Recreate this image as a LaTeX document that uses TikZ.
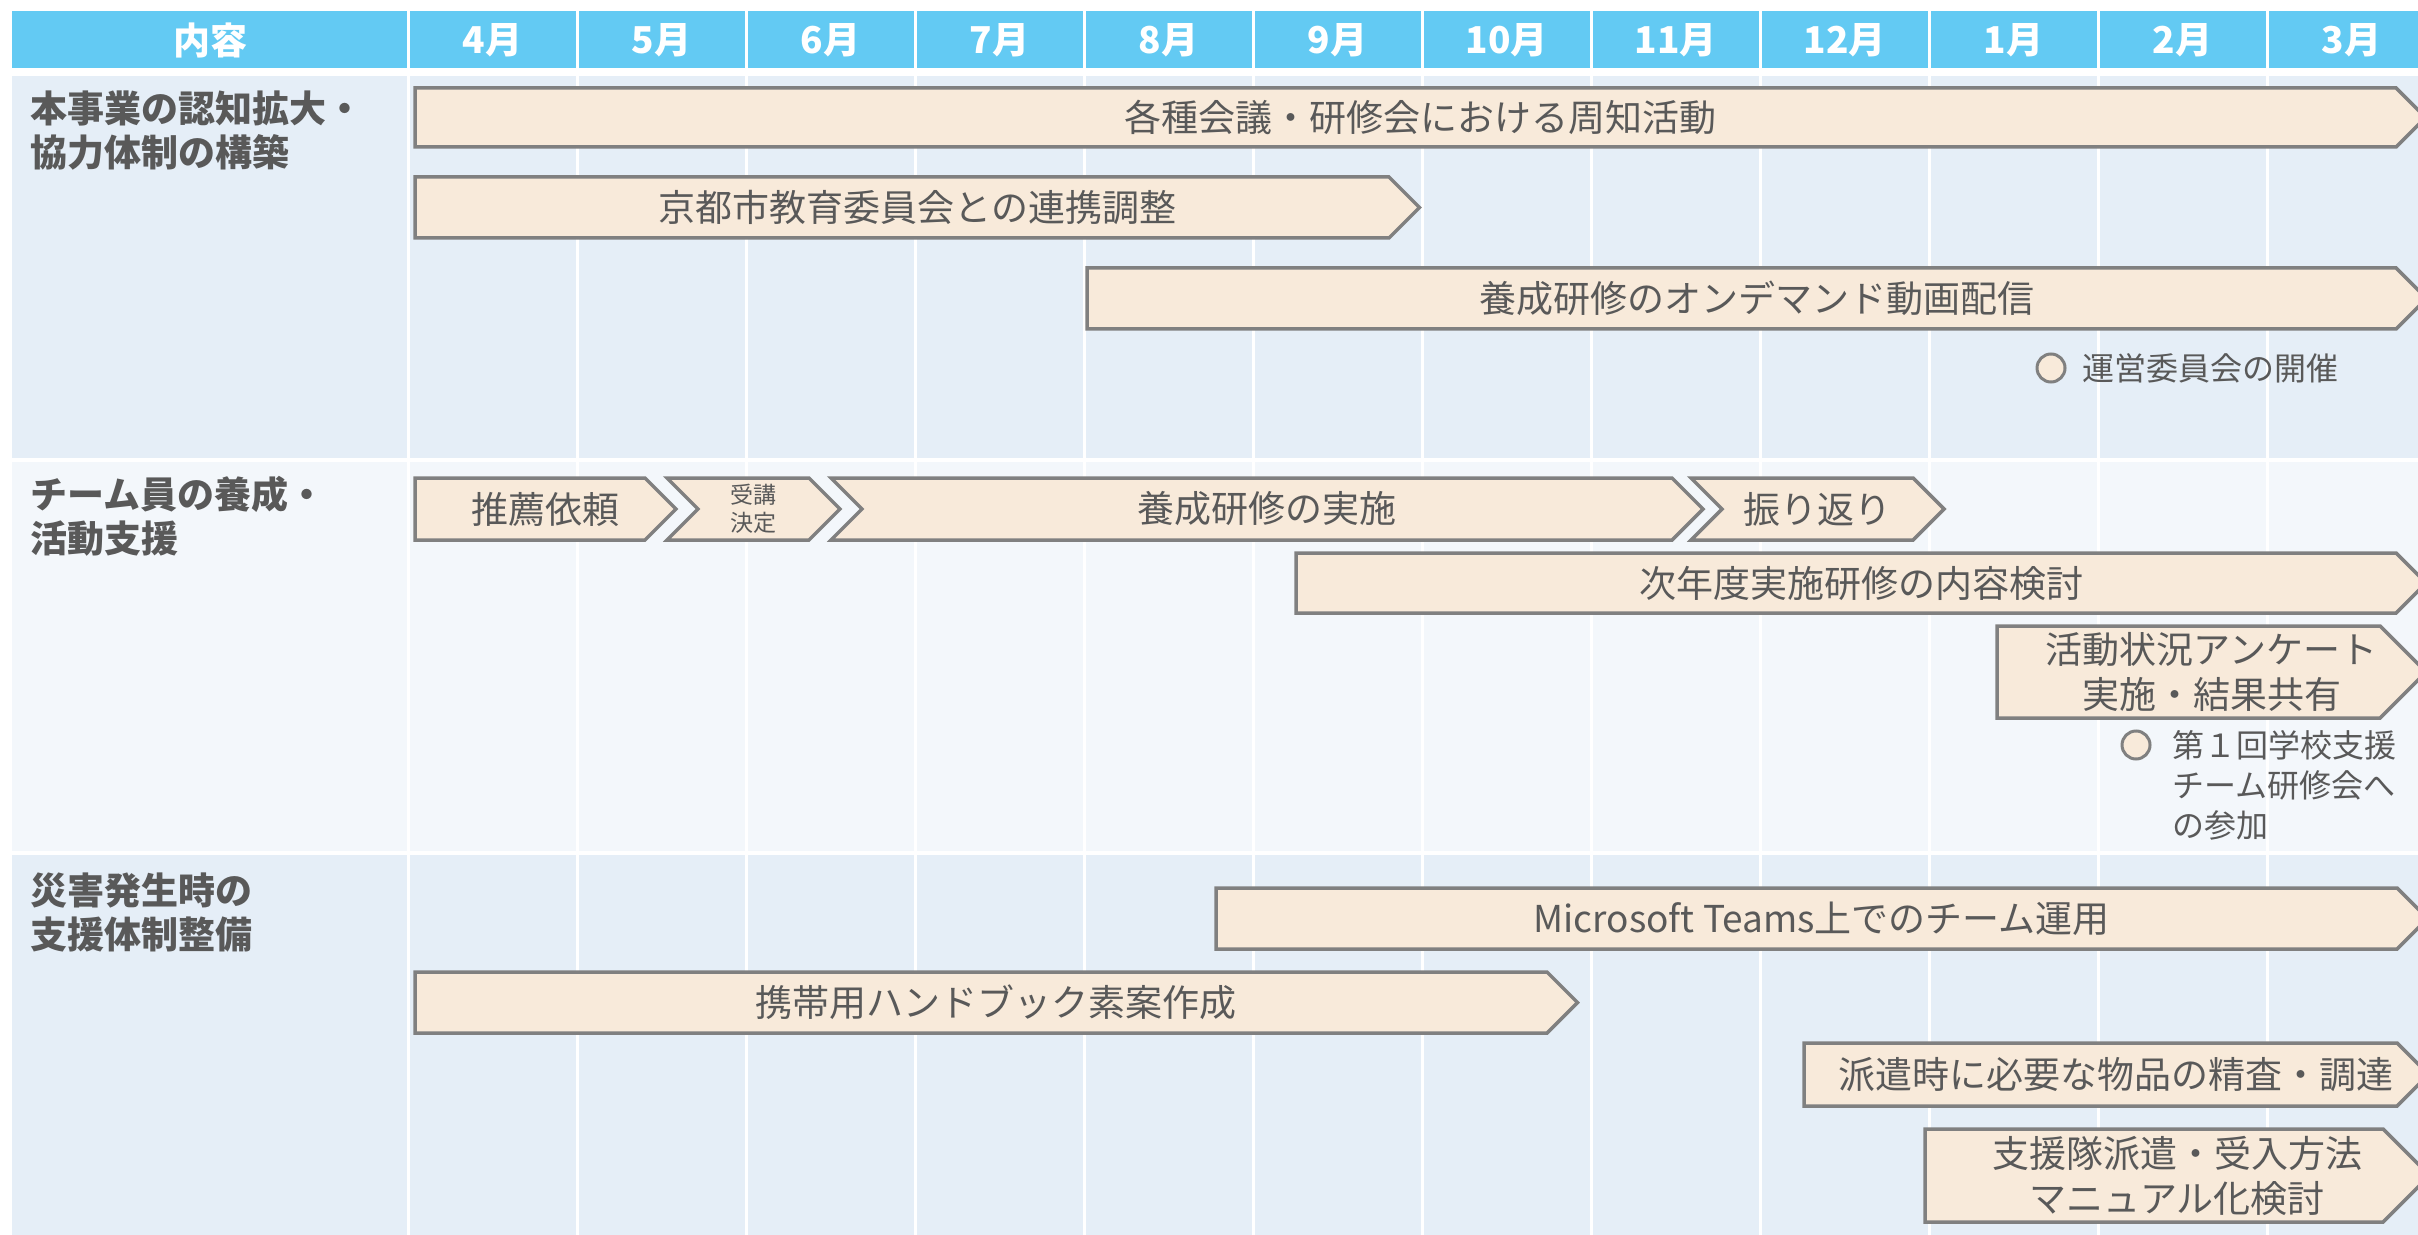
\documentclass[tikz,border=0pt]{standalone}
\usepackage{fontspec}
\setmainfont{Noto Sans CJK JP}
\usepackage{xcolor}
\usepackage{tikz}
\usetikzlibrary{positioning}

\definecolor{hdrblue}{HTML}{63CAF3}
\definecolor{rowdark}{HTML}{E5EEF7}
\definecolor{rowlight}{HTML}{F3F7FB}
\definecolor{barfill}{HTML}{F8EADA}
\definecolor{baredge}{HTML}{808080}
\definecolor{txtgray}{HTML}{595959}

\tikzset{
    gridline/.style={white, line width=1.5pt},
    hdrtext/.style={text=white, inner sep=0pt, font=\fontsize{18.5}{22}\selectfont\bfseries},
    rowlabel/.style={anchor=north west, align=left, text=txtgray, inner sep=0pt, font=\fontsize{18.5}{22}\selectfont\bfseries},
    barshape/.style={fill=barfill, draw=baredge, line width=1.75pt, line join=miter},
    bartext/.style={align=center, text=txtgray, inner sep=0pt, font=\fontsize{18.5}{22.5}\selectfont},
    smalltext/.style={font=\fontsize{11.5}{14}\selectfont},
    marker/.style={circle, fill=barfill, draw=baredge, line width=1.5pt, minimum size=14pt, inner sep=0pt},
    notetext/.style={align=left, text=txtgray, inner sep=0pt, font=\fontsize{16}{20}\selectfont},
}

% #1 extra style, #2 name, #3 left x, #4 flat end x, #5 top y, #6 bottom y, #7 notch (0/1), #8 text
\newcommand{\ganttbar}[8][]{%
    \pgfmathsetmacro{\bym}{(#5+#6)/2}%
    \pgfmathsetmacro{\byh}{(#6-#5)/2}%
    \pgfmathsetmacro{\bxn}{#3+#7*\byh}%
    \pgfmathsetmacro{\bxt}{#4+\byh}%
    \pgfmathsetmacro{\bxc}{(#3+\bxt)/2}%
    \draw[barshape] (#3,#5) -- (#4,#5) -- (\bxt,\bym) -- (#4,#6) -- (#3,#6) -- (\bxn,\bym) -- cycle;
    \node[bartext, #1] (#2) at (\bxc,\bym) {#8};
}

\begin{document}
\begin{tikzpicture}[x=0.5pt, y=-0.5pt]
    \useasboundingbox (0,0) rectangle (2418,1235);
    \clip (0,0) rectangle (2418,1235);
    \fill[white] (0,0) rectangle (2418,1235);

    % header and rows
    \fill[hdrblue] (12,11) rectangle (2440,68);
    \fill[rowdark] (12,76) rectangle (2440,458);
    \fill[rowlight] (12,462) rectangle (2440,851);
    \fill[rowdark] (12,855) rectangle (2440,1240);
    \foreach \i in {0,...,11}
        \draw[gridline] ({408+169*\i},11) -- ({408+169*\i},1240);

    \node[hdrtext] (hdr) at (210,40) {内容};
    \foreach \m [count=\i from 0] in {4月,5月,6月,7月,8月,9月,10月,11月,12月,1月,2月,3月}
        \node[hdrtext] (month\i) at ({492.5+169*\i},40) {\m};

    \node[rowlabel] (lbl-aware) at (30,90) {本事業の認知拡大・\\協力体制の構築};
    \node[rowlabel] (lbl-team) at (30,476) {チーム員の養成・\\活動支援};
    \node[rowlabel] (lbl-disaster) at (30,872) {災害発生時の\\支援体制整備};

    % row 1
    \ganttbar{shuchi}{415}{2396}{88}{147}{0}{各種会議・研修会における周知活動}
    \ganttbar{renkei}{415}{1389}{177}{238}{0}{京都市教育委員会との連携調整}
    \ganttbar{haishin}{1087}{2396}{268}{329}{0}{養成研修のオンデマンド動画配信}
    \node[marker] (unei) at (2051,368) {};
    \node[notetext, right=8pt of unei] (unei-text) {運営委員会の開催};

    % row 2
    \ganttbar{suisen}{415}{645}{478}{540}{0}{推薦依頼}
    \ganttbar[smalltext]{juko}{667}{809}{478}{540}{1}{受講\\決定}
    \ganttbar{jisshi}{831}{1672}{478}{540}{1}{養成研修の実施}
    \ganttbar{furikaeri}{1691}{1913}{478}{540}{1}{振り返り}
    \ganttbar{jinendo}{1296}{2396}{553}{613}{0}{次年度実施研修の内容検討}
    \ganttbar{enquete}{1997}{2380}{626}{718}{0}{活動状況アンケート\\実施・結果共有}
    \node[marker] (kenshu) at (2136,745) {};
    \node[notetext, anchor=north west] (kenshu-text) at (2172,730) {第１回学校支援\\チーム研修会へ\\の参加};

    % row 3
    \ganttbar{teams}{1216}{2397}{888}{949}{0}{Microsoft Teams上でのチーム運用}
    \ganttbar{handbook}{415}{1547}{972}{1033}{0}{携帯用ハンドブック素案作成}
    \ganttbar{busshi}{1804}{2397}{1043}{1106}{0}{派遣時に必要な物品の精査・調達}
    \ganttbar{manual}{1925}{2383}{1129}{1222}{0}{支援隊派遣・受入方法\\マニュアル化検討}
\end{tikzpicture}
\end{document}
